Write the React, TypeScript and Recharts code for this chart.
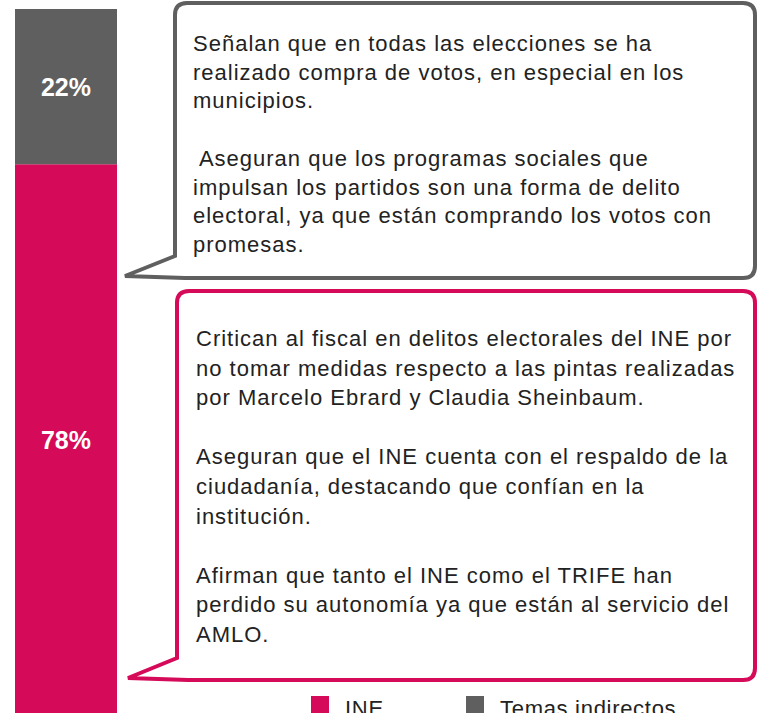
import React from "react";
import { BarChart, Bar, XAxis, YAxis, LabelList, Legend, Customized } from "recharts";

const categories = ["Total"];
const ineValues = [78];
const temasValues = [22];
const seriesNames = { ine: "INE", temas: "Temas indirectos" };
const colors = { ine: "#D50A59", temas: "#5F5F5F" };

const topCallout = [
  "Señalan que en todas las elecciones se ha",
  "realizado compra de votos, en especial en los",
  "municipios.",
  "",
  " Aseguran que los programas sociales que",
  "impulsan los partidos son una forma de delito",
  "electoral, ya que están comprando los votos con",
  "promesas.",
];
const bottomCallout = [
  "Critican al fiscal en delitos electorales del INE por",
  "no tomar medidas respecto a las pintas realizadas",
  "por Marcelo Ebrard y Claudia Sheinbaum.",
  "",
  "Aseguran que el INE cuenta con el respaldo de la",
  "ciudadanía, destacando que confían en la",
  "institución.",
  "",
  "Afirman que tanto el INE como el TRIFE han",
  "perdido su autonomía ya que están al servicio del",
  "AMLO.",
];

const data = categories.map((c, i) => ({ name: c, ine: ineValues[i], temas: temasValues[i] }));

const FONT = "'Liberation Sans', Arial, Helvetica, sans-serif";

function bubblePath(x0: number, y0: number, x1: number, y1: number, r: number, tail: { top: number; tipX: number; tipY: number; baseX: number }) {
  return [
    `M ${x0 + r} ${y0}`,
    `H ${x1 - r}`,
    `Q ${x1} ${y0} ${x1} ${y0 + r}`,
    `V ${y1 - r}`,
    `Q ${x1} ${y1} ${x1 - r} ${y1}`,
    `H ${tail.baseX}`,
    `L ${tail.tipX} ${tail.tipY}`,
    `L ${x0} ${tail.top}`,
    `V ${y0 + r}`,
    `Q ${x0} ${y0} ${x0 + r} ${y0}`,
    "Z",
  ].join(" ");
}

const Callouts = () => {
  return (
    <g>
      <path
        d={bubblePath(175, 3, 755, 278, 12, { top: 256, tipX: 125, tipY: 276, baseX: 185 })}
        fill="#fff"
        stroke={colors.temas}
        strokeWidth={4}
      />
      <path
        d={bubblePath(177, 291, 755, 680, 12, { top: 658, tipX: 128, tipY: 678, baseX: 188 })}
        fill="#fff"
        stroke={colors.ine}
        strokeWidth={4}
      />
      {topCallout.map((t, i) => (
        <text key={"a" + i} x={193} y={51 + i * 28.7} fontSize={22} letterSpacing={1} fill="#222" fontFamily={FONT} style={{ whiteSpace: "pre" }}>
          {t}
        </text>
      ))}
      {bottomCallout.map((t, i) => (
        <text key={"b" + i} x={196} y={346 + i * 29.6} fontSize={22} letterSpacing={1} fill="#222" fontFamily={FONT}>
          {t}
        </text>
      ))}
    </g>
  );
};

const LegendContent = (props: any) => {
  const payload = props.payload || [];
  return (
    <div style={{ display: "flex", fontFamily: FONT, fontSize: 22, letterSpacing: 0.7, color: "#222" }}>
      {payload.map((p: any, i: number) => (
        <div key={i} style={{ display: "flex", alignItems: "flex-start", width: i === 0 ? 155 : 280 }}>
          <div style={{ width: 18, height: 18, background: p.color, marginRight: 16 }} />
          <span style={{ lineHeight: "20px", marginTop: 3, whiteSpace: "nowrap" }}>{p.value}</span>
        </div>
      ))}
    </div>
  );
};

export default function App() {
  return (
    <div style={{ position: "absolute", left: 0, top: 0, width: 758, height: 713, overflow: "hidden", background: "#fff" }}>
      <BarChart
        width={758}
        height={754}
        data={data}
        margin={{ top: 9, right: 641, bottom: 16, left: 15 }}
        barCategoryGap={0}
      >
        <XAxis dataKey="name" hide />
        <YAxis hide domain={[0, 100]} />
        <Bar dataKey="ine" name={seriesNames.ine} stackId="a" fill={colors.ine} isAnimationActive={false}>
          <LabelList dataKey="ine" position="center" formatter={(v: any) => `${v}%`} fill="#fff" fontSize={25} fontWeight="bold" fontFamily={FONT} />
        </Bar>
        <Bar dataKey="temas" name={seriesNames.temas} stackId="a" fill={colors.temas} isAnimationActive={false}>
          <LabelList dataKey="temas" position="center" formatter={(v: any) => `${v}%`} fill="#fff" fontSize={25} fontWeight="bold" fontFamily={FONT} />
        </Bar>
        <Customized component={Callouts} />
        <Legend
          content={<LegendContent />}
          wrapperStyle={{ position: "absolute", left: 311, top: 696, width: 440 }}
        />
      </BarChart>
    </div>
  );
}
